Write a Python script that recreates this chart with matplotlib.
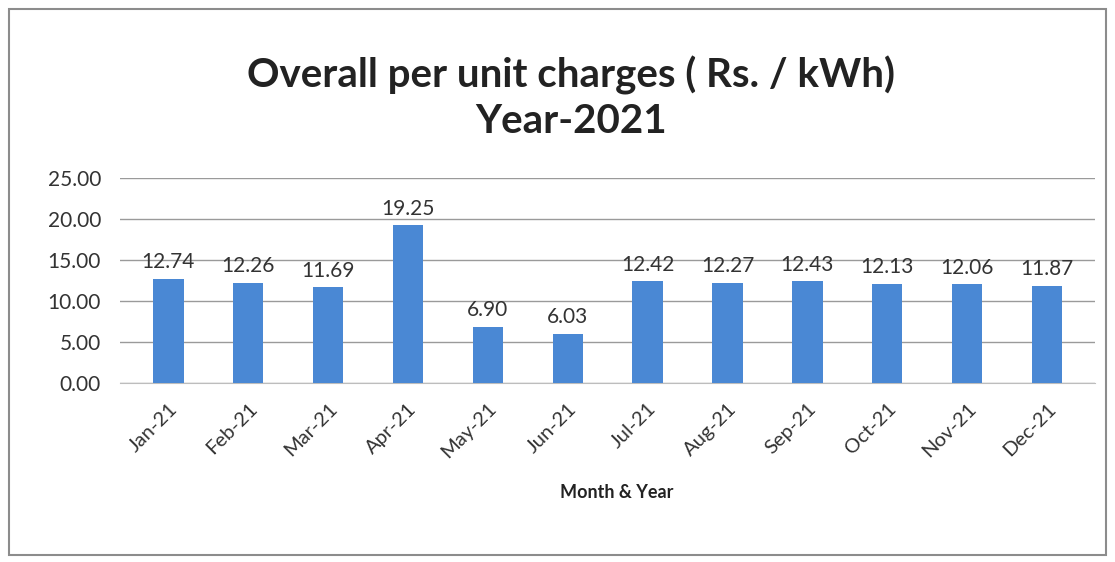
import matplotlib.pyplot as plt
from matplotlib.patches import Rectangle

months = ['Jan-21', 'Feb-21', 'Mar-21', 'Apr-21', 'May-21', 'Jun-21',
          'Jul-21', 'Aug-21', 'Sep-21', 'Oct-21', 'Nov-21', 'Dec-21']
charges = [12.74, 12.26, 11.69, 19.25, 6.90, 6.03,
           12.42, 12.27, 12.43, 12.13, 12.06, 11.87]
yticks = [0, 5, 10, 15, 20, 25]

plt.rcParams['font.family'] = ['Lato', 'DejaVu Sans']

fig = plt.figure(figsize=(11.15, 5.62), dpi=100)
ax = fig.add_axes([0.108, 0.318, 0.874, 0.365])

# outer chart border
fig.patches.append(Rectangle((0.008, 0.012), 0.984, 0.972, transform=fig.transFigure,
                             fill=False, edgecolor='#8c8c8c', linewidth=1.5))

x = list(range(len(months)))
ax.bar(x, charges, width=0.38, color='#4a88d4', zorder=3)
for xi, v in zip(x, charges):
    ax.text(xi, v + 0.8, f'{v:.2f}', ha='center', va='bottom', fontsize=15, color='#333333')

ax.set_ylim(0, 25)
ax.set_xlim(-0.6, len(months) - 0.4)
ax.set_yticks(yticks)
ax.set_yticklabels([f'{t:.2f}' for t in yticks], fontsize=15, color='#333333')
ax.set_xticks(x)
ax.set_xticklabels(months, rotation=45, ha='right', rotation_mode='anchor',
                   fontsize=14.5, color='#333333')
ax.tick_params(axis='y', length=0, pad=14)
ax.tick_params(axis='x', length=0, pad=12)
ax.grid(axis='y', color='#9a9a9a', linewidth=1, zorder=0)
for s in ['top', 'right', 'left']:
    ax.spines[s].set_visible(False)
ax.spines['bottom'].set_color('#bdbdbd')

fig.text(0.512, 0.866, 'Overall per unit charges ( Rs. / kWh)', ha='center', va='center',
         fontsize=29, fontweight='bold', color='#222222')
fig.text(0.512, 0.783, 'Year-2021', ha='center', va='center',
         fontsize=29, fontweight='bold', color='#222222')
fig.text(0.553, 0.123, 'Month & Year', ha='center', va='center',
         fontsize=13, fontweight='bold', color='#222222')

fig.savefig('out.png', dpi=100)
